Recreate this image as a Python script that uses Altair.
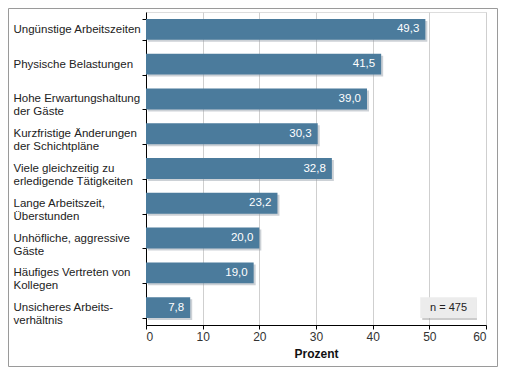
import altair as alt
import pandas as pd

categories = [
    "Ungünstige Arbeitszeiten",
    "Physische Belastungen",
    "Hohe Erwartungshaltung\nder Gäste",
    "Kurzfristige Änderungen\nder Schichtpläne",
    "Viele gleichzeitig zu\nerledigende Tätigkeiten",
    "Lange Arbeitszeit,\nÜberstunden",
    "Unhöfliche, aggressive\nGäste",
    "Häufiges Vertreten von\nKollegen",
    "Unsicheres Arbeits-\nverhältnis",
]
values = [49.3, 41.5, 39.0, 30.3, 32.8, 23.2, 20.0, 19.0, 7.8]
x_ticks = [0, 10, 20, 30, 40, 50, 60]
note_text = "n = 475"
note_start = 48.4
note_end = 58.4

df = pd.DataFrame({"cat": categories, "val": values})
df["lab"] = [f"{v:.1f}".replace(".", ",") for v in values]
note_df = pd.DataFrame({"cat": [categories[-1]], "x1": [note_start], "x2": [note_end],
                        "xm": [(note_start + note_end) / 2], "t": [note_text]})

FONT = "Liberation Sans"
BAR = "#4b7b9c"

yenc = alt.Y(
    "cat:N", sort=categories, title=None,
    scale=alt.Scale(paddingInner=0.4, paddingOuter=0.2),
    axis=alt.Axis(
        tickBand="extent", labelAlign="left", labelPadding=129, tickSize=4,
        labelFontSize=11.5, labelColor="#222", labelFont=FONT, labelLineHeight=13,
        labelExpr="split(datum.label, '\\n')", domainColor="#000", tickColor="#000",
        grid=False, labelLimit=300,
    ),
)
xscale = alt.Scale(domain=[0, 60], nice=False)
xenc = alt.X(
    "val:Q", scale=xscale, title="Prozent",
    axis=alt.Axis(
        values=x_ticks, grid=True, gridColor="#cfcfcf", domainColor="#000", tickColor="#000",
        tickSize=4, labelFontSize=12, labelColor="#333", labelFont=FONT,
        titleFont=FONT, titleFontSize=12, titleFontWeight="bold", titleColor="#111",
        titlePadding=6,
    ),
)

base = alt.Chart(df)
shadow = base.mark_bar(color="#8e9aa3", opacity=0.45, xOffset=2, yOffset=2).encode(x=xenc, y=yenc)
bars = base.mark_bar(color=BAR).encode(x=xenc, y=yenc)
texts = base.mark_text(align="right", baseline="middle", dx=-6, color="white",
                       fontSize=11.5, font=FONT).encode(x="val:Q", y=alt.Y("cat:N", sort=categories), text="lab:N")

nb = alt.Chart(note_df)
note_shadow = nb.mark_bar(color="#9a9a9a", opacity=0.5, xOffset=2, yOffset=2).encode(
    x=alt.X("x1:Q", scale=xscale), x2="x2:Q", y=alt.Y("cat:N", sort=categories))
note_box = nb.mark_bar(color="#ececec").encode(
    x=alt.X("x1:Q", scale=xscale), x2="x2:Q", y=alt.Y("cat:N", sort=categories))
note_txt = nb.mark_text(fontSize=11, font=FONT, color="#222").encode(
    x=alt.X("xm:Q", scale=xscale), y=alt.Y("cat:N", sort=categories), text="t:N")

frame = alt.Chart(note_df).mark_rect(fillOpacity=0, stroke="#9a9a9a", strokeWidth=1).encode(
    x=alt.value(-137.5), x2=alt.value(351.5), y=alt.value(-3.5), y2=alt.value(354.5))

chart = alt.layer(shadow, bars, texts, note_shadow, note_box, note_txt, frame).properties(
    width=340, height=313,
    autosize=alt.AutoSizeParams(type="none"),
    padding={"left": 138, "top": 4, "right": 12, "bottom": 42},
).configure_view(stroke="#cfcfcf").configure(background="white")

chart.save("out.html", embed_options={"renderer": "svg", "actions": False})
